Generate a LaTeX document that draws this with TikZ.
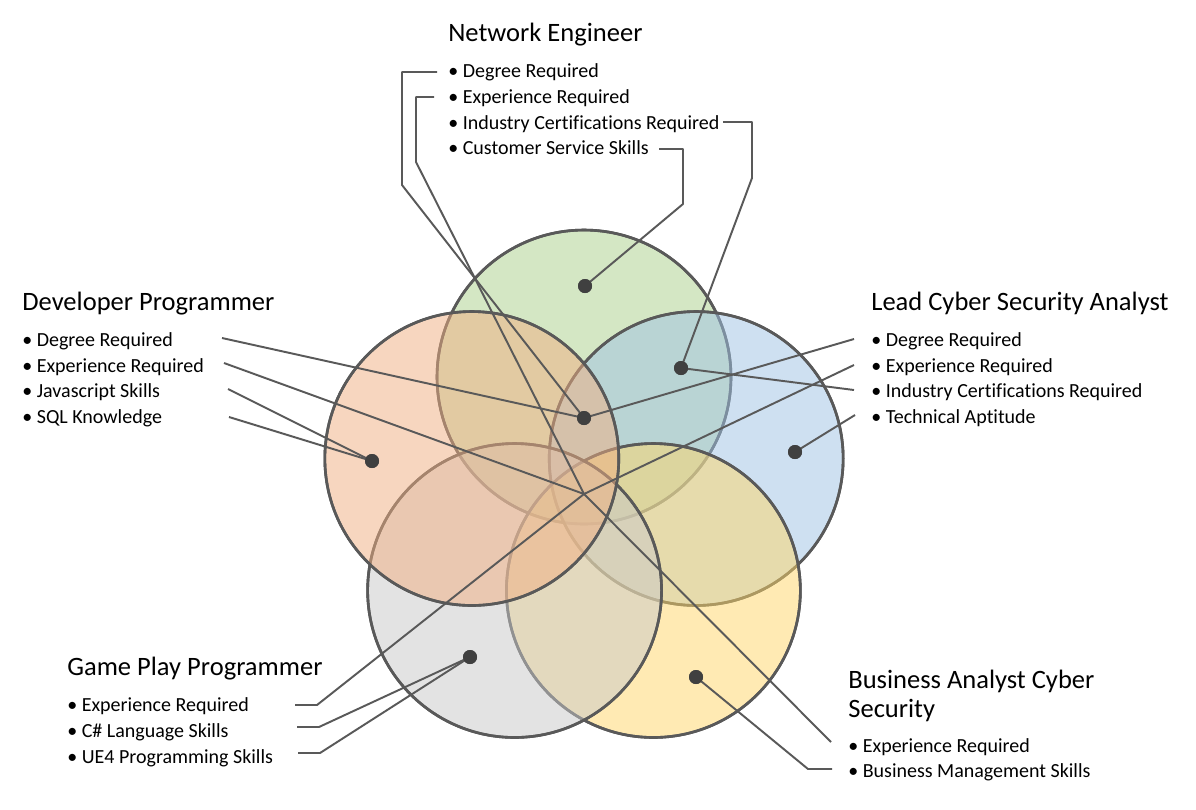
\documentclass[tikz,border=0pt]{standalone}
\usepackage{fontspec}
\setmainfont{Carlito}[Ligatures={NoCommon}]
\definecolor{cgreen}{RGB}{171,209,139}
\definecolor{corange}{RGB}{241,175,129}
\definecolor{cblue}{RGB}{159,195,229}
\definecolor{cgray}{RGB}{201,201,201}
\definecolor{cyellow}{RGB}{255,215,105}
\definecolor{circlegray}{RGB}{89,89,89}
\definecolor{linegray}{RGB}{89,89,89}
\definecolor{dotgray}{RGB}{64,64,64}
\tikzset{
  venn/.style={draw=circlegray, line width=1.5pt, fill opacity=0.5},
  conn/.style={draw=linegray, line width=1.1pt, line join=round},
  dotnode/.style={circle, fill=dotgray, inner sep=0pt, minimum size=0.28cm},
  ttl/.style={anchor=base west, inner sep=0pt, font=\fontsize{15.1}{17}\selectfont},
  itm/.style={anchor=base west, inner sep=0pt, font=\fontsize{11.38}{13}\selectfont},
}
\begin{document}
\begin{tikzpicture}[x=0.02cm,y=-0.02cm]
\useasboundingbox[fill=white] (0,0) rectangle (1196,809);

% circles (bottom to top)
\fill[venn, fill=cgreen]  (584,377)     circle [radius=2.94cm];
\draw[circlegray, line width=1.5pt] (584,377) circle [radius=2.94cm];
\fill[venn, fill=cblue]   (696.2,458.5) circle [radius=2.94cm];
\draw[circlegray, line width=1.5pt] (696.2,458.5) circle [radius=2.94cm];
\fill[venn, fill=cyellow] (653.4,590.5) circle [radius=2.94cm];
\draw[circlegray, line width=1.5pt] (653.4,590.5) circle [radius=2.94cm];
\fill[venn, fill=cgray]   (514.6,590.5) circle [radius=2.94cm];
\draw[circlegray, line width=1.5pt] (514.6,590.5) circle [radius=2.94cm];
\fill[venn, fill=corange] (471.8,458.5) circle [radius=2.94cm];
\draw[circlegray, line width=1.5pt] (471.8,458.5) circle [radius=2.94cm];

% titles
\node[ttl] (tne) at (448,41.5) {Network Engineer};
\node[ttl] (tdev) at (22,310.5) {Developer Programmer};
\node[ttl] (tlc) at (871,310.5) {Lead Cyber Security Analyst};
\node[ttl] (tgp) at (67,675.5) {Game Play Programmer};
\node[ttl] (tba1) at (848,688) {Business Analyst Cyber};
\node[ttl] (tba2) at (848,717) {Security};

% items
\node[itm] (ne1) at (448,77) {• Degree Required};
\node[itm] (ne2) at (448,103) {• Experience Required};
\node[itm] (ne3) at (448,129) {• Industry Certifications Required};
\node[itm] (ne4) at (448,154) {• Customer Service Skills};

\node[itm] (dv1) at (22,346) {• Degree Required};
\node[itm] (dv2) at (22,372) {• Experience Required};
\node[itm] (dv3) at (22,397) {• Javascript Skills};
\node[itm] (dv4) at (22,423) {• SQL Knowledge};

\node[itm] (lc1) at (871,346) {• Degree Required};
\node[itm] (lc2) at (871,372) {• Experience Required};
\node[itm] (lc3) at (871,397) {• Industry Certifications Required};
\node[itm] (lc4) at (871,423) {• Technical Aptitude};

\node[itm] (gp1) at (67,711) {• Experience Required};
\node[itm] (gp2) at (67,737) {• C\# Language Skills};
\node[itm] (gp3) at (67,763) {• UE4 Programming Skills};

\node[itm] (ba1) at (848,752) {• Experience Required};
\node[itm] (ba2) at (848,777) {• Business Management Skills};

% dots and junction
\coordinate (jE) at (584,494);
\node[dotnode] (dD) at (584,418) {};
\node[dotnode] (dC) at (681,368) {};
\node[dotnode] (dG) at (585,286) {};
\node[dotnode] (dO) at (372,461) {};
\node[dotnode] (dB) at (795,452) {};
\node[dotnode] (dR) at (470,657) {};
\node[dotnode] (dY) at (696,677) {};

% connector ends
\coordinate (ne1s) at (437,72);
\coordinate (ne2s) at (434,97);
\coordinate (ne3s) at (723,122);
\coordinate (ne4s) at (659,149);
\coordinate (dv1s) at (222,338);
\coordinate (dv2s) at (224,363);
\coordinate (dv3s) at (228,389);
\coordinate (dv4s) at (229,417);
\coordinate (lc1s) at (854,339);
\coordinate (lc2s) at (854,365);
\coordinate (lc3s) at (854,390);
\coordinate (lc4s) at (855,415);
\coordinate (gp1s) at (295,705);
\coordinate (gp2s) at (297,727);
\coordinate (gp3s) at (298,753);
\coordinate (ba1s) at (831,742);
\coordinate (ba2s) at (832,769);

% connectors
\draw[conn] (ne1s) -- (402,72) -- (402,185) -- (dD.center);
\draw[conn] (ne2s) -- (416,97) -- (416,162) -- (jE);
\draw[conn] (ne3s) -- (752,122) -- (752,178) -- (dC.center);
\draw[conn] (ne4s) -- (683,149) -- (683,204) -- (dG.center);

\draw[conn] (dv1s) -- (dD.center);
\draw[conn] (dv2s) -- (jE);
\draw[conn] (dv3s) -- (dO.center);
\draw[conn] (dv4s) -- (dO.center);

\draw[conn] (lc1s) -- (dD.center);
\draw[conn] (lc2s) -- (jE);
\draw[conn] (lc3s) -- (dC.center);
\draw[conn] (lc4s) -- (dB.center);

\draw[conn] (gp1s) -- (317,705) -- (jE);
\draw[conn] (gp2s) -- (319,727) -- (dR.center);
\draw[conn] (gp3s) -- (320,753) -- (dR.center);

\draw[conn] (ba1s) -- (jE);
\draw[conn] (ba2s) -- (808,769) -- (dY.center);

% redraw dots on top
\foreach \d in {dD,dC,dG,dO,dB,dR,dY} \fill[dotgray] (\d) circle [radius=0.14cm];
\end{tikzpicture}
\end{document}
